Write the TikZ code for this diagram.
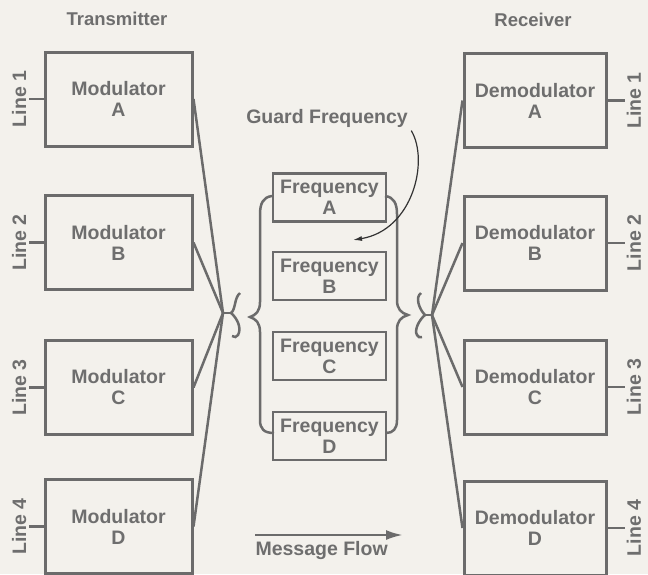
\documentclass[tikz,border=0pt]{standalone}
\usepackage{fontspec}
\setmainfont{Liberation Sans}
\usetikzlibrary{positioning,arrows.meta}
\definecolor{paper}{HTML}{F3F1EC}
\definecolor{ink}{HTML}{6B6B6B}
\definecolor{inktext}{HTML}{6E6E6E}

\begin{document}
\begin{tikzpicture}[
    x=1pt, y=-1pt,
    every node/.style={font=\fontsize{19.5}{21}\selectfont\bfseries, text=inktext},
    block/.style={draw=ink, line width=3pt, rectangle, align=center, minimum width=147pt, minimum height=94pt},
    demodblock/.style={block, minimum width=142pt},
    freqblock/.style={draw=ink, line width=2.5pt, rectangle, align=center, minimum width=113pt, minimum height=48pt, inner sep=0pt},
    wire/.style={draw=ink, line width=2.5pt},
    linelabel/.style={rotate=90, inner sep=2pt},
    title/.style={font=\fontsize{18.5}{20}\selectfont\bfseries},
    flow/.style={-{Latex[length=17pt,width=10pt]}, draw=ink, line width=2.5pt},
    guard/.style={-{Latex[length=9pt,width=5pt]}, draw=black!80, line width=1.2pt}
]
\path[use as bounding box, fill=paper] (0,0) rectangle (648,574);

% titles
\node[title] (tx) at (117,19) {Transmitter};
\node[title] (rx) at (533,20) {Receiver};

% transmitter side
\node[block] (modA) at (118.5,99) {Modulator\\A};
\node[block, below=46.5pt of modA] (modB) {Modulator\\B};
\node[block, below=48pt of modB] (modC) {Modulator\\C};
\node[block, below=42pt of modC] (modD) {Modulator\\D};

\node[linelabel, anchor=south] (inA) at ([xshift=-15pt]modA.west) {Line 1};
\node[linelabel, anchor=south] (inB) at ([xshift=-15pt]modB.west) {Line 2};
\node[linelabel, anchor=south] (inC) at ([xshift=-15pt]modC.west) {Line 3};
\node[linelabel, anchor=south] (inD) at ([xshift=-15pt]modD.west) {Line 4};

\draw[wire] (modA.west) -- (inA.south);
\draw[wire] (modB.west) -- (inB.south);
\draw[wire] (modC.west) -- (inC.south);
\draw[wire] (modD.west) -- (inD.south);

% receiver side
\node[demodblock] (demodA) at (535,100.5) {Demodulator\\A};
\node[demodblock, below=45.5pt of demodA] (demodB) {Demodulator\\B};
\node[demodblock, below=47pt of demodB] (demodC) {Demodulator\\C};
\node[demodblock, below=44pt of demodC] (demodD) {Demodulator\\D};

\node[linelabel, anchor=north] (outA) at ([xshift=17pt]demodA.east) {Line 1};
\node[linelabel, anchor=north] (outB) at ([xshift=17pt]demodB.east) {Line 2};
\node[linelabel, anchor=north] (outC) at ([xshift=17pt]demodC.east) {Line 3};
\node[linelabel, anchor=north] (outD) at ([xshift=17pt]demodD.east) {Line 4};

\draw[wire] (demodA.east) -- (outA.north);
\draw[wire] (demodB.east) -- (outB.north);
\draw[wire] (demodC.east) -- (outC.north);
\draw[wire] (demodD.east) -- (outD.north);

% frequency bands
\node[freqblock] (freqA) at (329.5,197.5) {Frequency\\A};
\node[freqblock, below=28pt of freqA] (freqB) {Frequency\\B};
\node[freqblock, below=29.5pt of freqB] (freqC) {Frequency\\C};
\node[freqblock, below=29.5pt of freqC] (freqD) {Frequency\\D};

\draw[wire] (272,196) .. controls (263,197) and (260,204) .. (260,214) -- (260,302)
    .. controls (260,311) and (256,315) .. (250,317) .. controls (256,319) and (260,323) .. (260,332)
    -- (260,420) .. controls (260,429) and (264,433) .. (274,433);
\draw[wire] (385,196) .. controls (394,197) and (397,204) .. (397,214) -- (397,300)
    .. controls (397,309) and (401,313) .. (408,315) .. controls (401,317) and (397,321) .. (397,330)
    -- (397,420) .. controls (397,429) and (393,433) .. (386,433);

% multiplexing junctions
\coordinate (jointL) at (223,313);
\coordinate (tipL) at (231,313);
\draw[wire] (modA.east) -- (jointL);
\draw[wire] (modB.east) -- (jointL);
\draw[wire] (modC.east) -- (jointL);
\draw[wire] (modD.east) -- (jointL);
\draw[wire] (jointL) -- (tipL);
\draw[wire] (240,293) .. controls (234,298) and (236,309) .. (tipL)
    .. controls (237,318) and (242,328) .. (238,335) .. controls (237,337) and (234,338) .. (232,336);

\coordinate (jointR) at (432,315);
\coordinate (tipR) at (425,315);
\draw[wire] (demodA.west) -- (jointR);
\draw[wire] (demodB.west) -- (jointR);
\draw[wire] (demodC.west) -- (jointR);
\draw[wire] (demodD.west) -- (jointR);
\draw[wire] (jointR) -- (tipR);
\draw[wire] (421,293) .. controls (415,297) and (419,309) .. (tipR)
    .. controls (419,320) and (414,330) .. (417,335) .. controls (418,337) and (420,338) .. (422,337);

% guard frequency
\node (guardtxt) at (327,118) {Guard Frequency};
\coordinate (gap) at (353,240);
\draw[guard] (guardtxt.south east) .. controls +(18,30) and +(60,-10) .. (gap);

% message flow
\coordinate (flowstart) at (255,535);
\coordinate (flowend) at (403,535);
\draw[flow] (flowstart) -- (flowend);
\node[anchor=base west] (flowtxt) at (252,555) {Message Flow};
\end{tikzpicture}
\end{document}
